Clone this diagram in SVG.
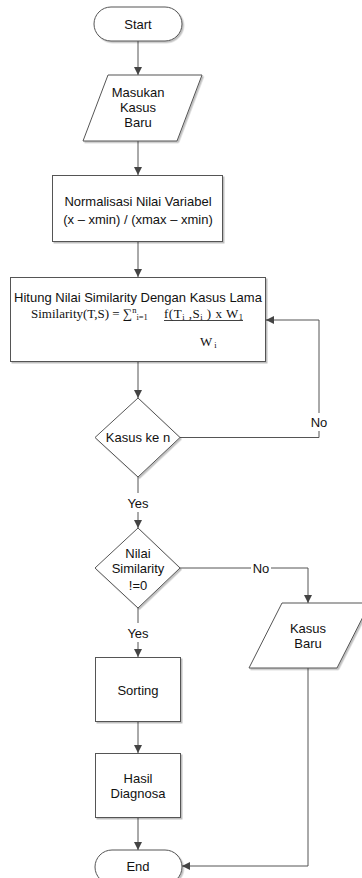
<svg xmlns="http://www.w3.org/2000/svg" width="362" height="878" viewBox="0 0 362 878">
<defs>
<style>
.sh{fill:#fff;stroke:#555;stroke-width:1;filter:url(#ds)}
.t{font-family:"Liberation Sans",Arial,sans-serif;font-size:13px;fill:#111;text-anchor:middle}
.s{font-family:"Liberation Serif","Times New Roman",serif;font-size:13px;fill:#111}
.sm{font-size:8.5px}
.c{fill:none;stroke:#555;stroke-width:1}
.bg{fill:#fff;stroke:none}
</style>
<filter id="ds" x="-10%" y="-10%" width="130%" height="130%">
<feDropShadow dx="1.5" dy="1.5" stdDeviation="0.6" flood-color="#000" flood-opacity="0.25"/>
</filter>
<marker id="ah" viewBox="0 0 8 8" refX="8" refY="4" markerWidth="8" markerHeight="8" markerUnits="userSpaceOnUse" orient="auto">
<path d="M0,0 L8,4 L0,8 Z" fill="#444"/>
</marker>
</defs>

<g id="connectors">
<path class="c" d="M138,41 V75" marker-end="url(#ah)"/>
<path class="c" d="M138,141 V175" marker-end="url(#ah)"/>
<path class="c" d="M138,242 V277" marker-end="url(#ah)"/>
<path class="c" d="M138,362 V398" marker-end="url(#ah)"/>
<path class="c" d="M180,437.5 H319 V320 H266" marker-end="url(#ah)"/>
<path class="c" d="M138,477 V528" marker-end="url(#ah)"/>
<path class="c" d="M180,568 H308 V603" marker-end="url(#ah)"/>
<path class="c" d="M138,608 V657" marker-end="url(#ah)"/>
<path class="c" d="M138,722 V753" marker-end="url(#ah)"/>
<path class="c" d="M138,818 V850" marker-end="url(#ah)"/>
<path class="c" d="M308,668 V866 H182" marker-end="url(#ah)"/>
<rect class="bg" x="308" y="413" width="22" height="18"/>
<text class="t" x="319" y="426.5">No</text>
<rect class="bg" x="124" y="493" width="28" height="19"/>
<text class="t" x="138" y="507.5">Yes</text>
<rect class="bg" x="251" y="562" width="20" height="13"/>
<text class="t" x="261" y="572.5">No</text>
<rect class="bg" x="124" y="623" width="28" height="19"/>
<text class="t" x="138" y="637.5">Yes</text>
</g>

<g id="start">
<rect class="sh" x="94" y="7" width="88" height="34" rx="17" ry="17"/>
<text class="t" x="138" y="28.5">Start</text>
</g>

<g id="masukan">
<polygon class="sh" points="108,75 202,75 177,141 83,141"/>
<text class="t" x="138" y="96.5">Masukan</text>
<text class="t" x="138" y="111.5">Kasus</text>
<text class="t" x="138" y="126.5">Baru</text>
</g>

<g id="normalisasi">
<rect class="sh" x="52.5" y="175.5" width="170" height="66"/>
<text class="t" x="138" y="206">Normalisasi Nilai Variabel</text>
<text class="t" x="138" y="223.5">(x – xmin) / (xmax – xmin)</text>
</g>

<g id="hitung">
<rect class="sh" x="10.5" y="277.5" width="255" height="84"/>
<text class="t" x="138" y="301.5">Hitung Nilai Similarity Dengan Kasus Lama</text>
<text class="s" x="31" y="318">Similarity(T,S) = ∑<tspan class="sm" dy="-5">n</tspan><tspan class="sm" dy="7">i=1</tspan></text>
<text class="s" x="164" y="318" textLength="79" lengthAdjust="spacing">f(T<tspan class="sm" dy="2">i</tspan><tspan dy="-2"> ,S</tspan><tspan class="sm" dy="2">i</tspan><tspan dy="-2"> ) x W</tspan><tspan class="sm" dy="2">1</tspan></text>
<line x1="164" y1="320.5" x2="243" y2="320.5" stroke="#111" stroke-width="0.8"/>
<text class="s" x="200" y="346">W<tspan class="sm" dx="2" dy="2">i</tspan></text>
</g>

<g id="kasus-ke-n">
<polygon class="sh" points="138,398 180,437.5 138,477 95,437.5"/>
<text class="t" x="138" y="442">Kasus ke n</text>
</g>

<g id="nilai-similarity">
<polygon class="sh" points="138,528 180,568 138,608 95,568"/>
<text class="t" x="138" y="557.5">Nilai</text>
<text class="t" x="138" y="573">Similarity</text>
<text class="t" x="138" y="589.5">!=0</text>
</g>

<g id="kasus-baru">
<polygon class="sh" points="282,603 370,603 337,668 249,668"/>
<text class="t" x="308" y="632.5">Kasus</text>
<text class="t" x="308" y="647.5">Baru</text>
</g>

<g id="sorting">
<rect class="sh" x="95.5" y="657.5" width="85" height="64"/>
<text class="t" x="138" y="694.5">Sorting</text>
</g>

<g id="hasil">
<rect class="sh" x="95.5" y="753.5" width="85" height="64"/>
<text class="t" x="138" y="782.5">Hasil</text>
<text class="t" x="138" y="797.5">Diagnosa</text>
</g>

<g id="end">
<rect class="sh" x="95" y="850" width="87" height="34" rx="17" ry="17"/>
<text class="t" x="138" y="870.5">End</text>
</g>
</svg>
